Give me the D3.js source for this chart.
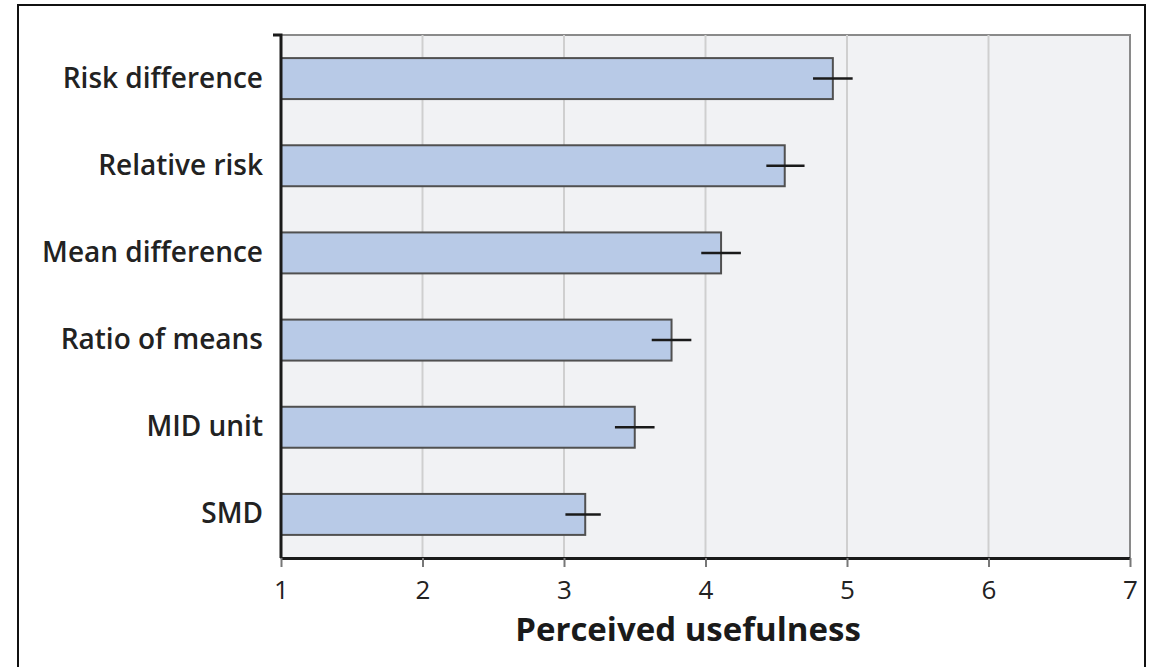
<!DOCTYPE html>
<html><head><meta charset="utf-8">
<script src="https://cdn.jsdelivr.net/npm/d3@7"></script>
<style>body{margin:0;background:#fff;}svg{display:block;}</style>
</head><body>
<svg id="chart" width="1154" height="667"></svg>
<script>
const categories = ["Risk difference","Relative risk","Mean difference","Ratio of means","MID unit","SMD"];
const means = [4.90, 4.56, 4.11, 3.76, 3.50, 3.15];
const errLow = [4.76, 4.43, 3.97, 3.62, 3.36, 3.01];
const errHigh = [5.04, 4.70, 4.25, 3.90, 3.64, 3.26];
const xTicks = [1,2,3,4,5,6,7];
const xTitle = "Perceived usefulness";

const svg = d3.select("#chart");
const font = "'Open Sans', 'Noto Sans', sans-serif";
const m = {left:281, right:1130, top:35, bottom:558};

// outer frame
svg.append("path").attr("d","M18,700 L18,5 L1145,5 L1145,700")
  .attr("fill","none").attr("stroke","#111").attr("stroke-width",2);

const x = d3.scaleLinear().domain([1,7]).range([m.left, m.right]);
const y = d3.scaleBand().domain(categories).range([m.top, m.bottom]).paddingInner(0.53).paddingOuter(0.265);

// plot background
svg.append("rect").attr("x",m.left).attr("y",m.top).attr("width",m.right-m.left).attr("height",m.bottom-m.top)
  .attr("fill","#f1f2f4").attr("stroke","#8a8a8a").attr("stroke-width",2);

// grid
svg.append("g").selectAll("line").data(xTicks.slice(1,-1)).join("line")
  .attr("x1",d=>x(d)).attr("x2",d=>x(d)).attr("y1",m.top).attr("y2",m.bottom)
  .attr("stroke","#cfcfcf").attr("stroke-width",2);

// bars
svg.append("g").selectAll("rect").data(categories).join("rect")
  .attr("x",x(1)).attr("y",d=>y(d)).attr("height",y.bandwidth())
  .attr("width",(d,i)=>x(means[i])-x(1))
  .attr("fill","#b8cae7").attr("stroke","#505050").attr("stroke-width",2);

// error bars
svg.append("g").selectAll("line").data(categories).join("line")
  .attr("x1",(d,i)=>x(errLow[i])).attr("x2",(d,i)=>x(errHigh[i]))
  .attr("y1",d=>y(d)+y.bandwidth()/2).attr("y2",d=>y(d)+y.bandwidth()/2)
  .attr("stroke","#1a1a1a").attr("stroke-width",2.5);

// x axis
const xAxis = svg.append("g").attr("transform",`translate(0,${m.bottom})`)
  .call(d3.axisBottom(x).tickValues(xTicks).tickFormat(d3.format("d")).tickSize(9).tickPadding(14).tickSizeOuter(0));
xAxis.select(".domain").attr("stroke","#1a1a1a").attr("stroke-width",3)
  .attr("d",`M${m.left},0.5H${m.right}`);
xAxis.selectAll(".tick line").attr("stroke","#777").attr("stroke-width",2);
xAxis.selectAll(".tick text").attr("font-family",font).attr("font-size",26).attr("fill","#222");

// y axis
const yAxis = svg.append("g").attr("transform",`translate(${m.left},0)`)
  .call(d3.axisLeft(y).tickSize(0).tickPadding(18).tickSizeOuter(0));
yAxis.select(".domain").attr("stroke","#1a1a1a").attr("stroke-width",3)
  .attr("d",`M-8,${m.top}H0V${m.bottom}`);
yAxis.selectAll(".tick text").attr("font-family",font).attr("font-size",28).attr("font-weight",600).attr("fill","#222");

// title
svg.append("text").attr("x",688).attr("y",641).attr("text-anchor","middle")
  .attr("font-family",font).attr("font-weight","bold").attr("font-size",33).attr("fill","#1a1a1a")
  .text(xTitle);
</script>
</body></html>
